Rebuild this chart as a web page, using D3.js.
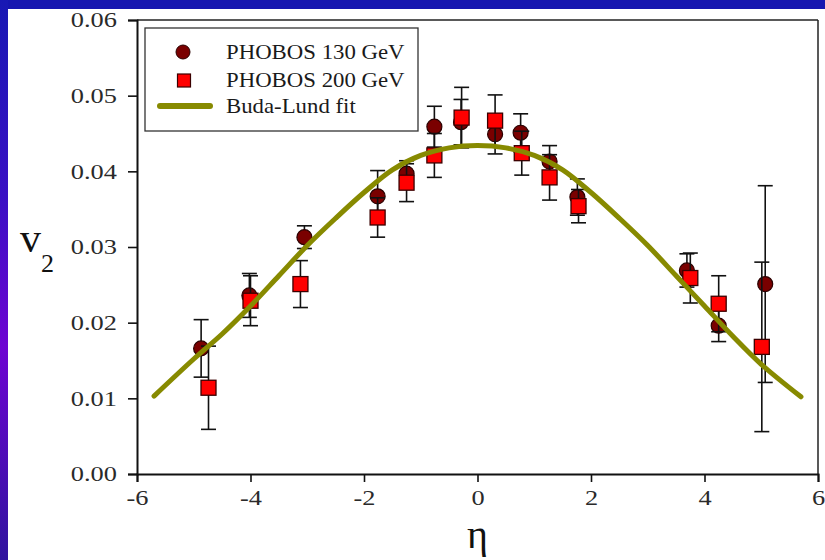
<!DOCTYPE html>
<html><head><meta charset="utf-8">
<script src="https://cdn.jsdelivr.net/npm/d3@7"></script>
<style>
html,body{margin:0;padding:0;background:#1616b0;}
svg{display:block;}
text{font-family:"Liberation Serif","Times New Roman",serif;}
</style></head>
<body>
<svg id="chart" width="825" height="560"></svg>
<script>
// ---- data ----
const eta130 = [-4.87,-4.02,-3.05,-1.76,-1.25,-0.76,-0.29,0.31,0.76,1.27,1.76,3.69,4.25,5.07];
const v130   = [0.0166,0.0236,0.0313,0.0367,0.0397,0.0459,0.0465,0.0449,0.0451,0.0413,0.0366,0.0269,0.0196,0.0251];
const err130 = [0.0038,0.0029,0.0015,0.0034,0.0017,0.0027,0.0030,0.0026,0.0025,0.0021,0.0024,0.0022,0.0021,0.0130];

const eta200 = [-4.74,-4.00,-3.12,-1.76,-1.25,-0.76,-0.28,0.31,0.78,1.27,1.78,3.75,4.25,5.01];
const v200   = [0.0114,0.0229,0.0251,0.0339,0.0385,0.0421,0.0471,0.0467,0.0424,0.0392,0.0354,0.0259,0.0225,0.0168];
const err200 = [0.0055,0.0033,0.0031,0.0026,0.0025,0.0029,0.0040,0.0034,0.0029,0.0030,0.0022,0.0033,0.0037,0.0112];

const etaFit = [-5.7,-5.0,-4.5,-4.0,-3.5,-3.0,-2.5,-2.0,-1.5,-1.0,-0.5,0,0.5,1.0,1.5,2.0,2.5,3.0,3.5,4.0,4.5,5.0,5.7];
const vFit   = [0.0103,0.0152,0.0185,0.0222,0.0262,0.0302,0.0338,0.0372,0.0402,0.0421,0.0431,0.0434,0.0431,0.0421,0.0402,0.0372,0.0338,0.0302,0.0262,0.0222,0.0182,0.0145,0.0102];

const xTicks = [-6,-4,-2,0,2,4,6];
const yTicks = [0,0.01,0.02,0.03,0.04,0.05,0.06];
const legendLabels = ["PHOBOS 130 GeV","PHOBOS 200 GeV","Buda-Lund fit"];

// ---- drawing ----
const svg = d3.select("#chart");
const W = 825, H = 560;
const SX_TICK = 1.32;  // horizontal stretch of tick labels
const SX_LEG = 1.14;   // horizontal stretch of legend labels

const defs = svg.append("defs");
const grad = defs.append("linearGradient").attr("id","leftGrad").attr("x1",0).attr("y1",0).attr("x2",0).attr("y2",1);
grad.append("stop").attr("offset","0%").attr("stop-color","#1818b4");
grad.append("stop").attr("offset","35%").attr("stop-color","#3a10c4");
grad.append("stop").attr("offset","62%").attr("stop-color","#6e04d2");
grad.append("stop").attr("offset","100%").attr("stop-color","#30149e");

svg.append("rect").attr("width",W).attr("height",H).attr("fill","#1616b0");
svg.append("rect").attr("x",0).attr("y",0).attr("width",8).attr("height",H).attr("fill","url(#leftGrad)");
svg.append("rect").attr("x",8).attr("y",9).attr("width",W-8).attr("height",H-9).attr("fill","#ffffff");

const x = d3.scaleLinear().domain([-6,6]).range([137,818]);
const y = d3.scaleLinear().domain([0,0.06]).range([474,20]);

// frame top & right
svg.append("line").attr("x1",x(-6)).attr("x2",x(6)).attr("y1",y(0.06)).attr("y2",y(0.06)).attr("stroke","#222").attr("stroke-width",1.5);
svg.append("line").attr("x1",x(6)).attr("x2",x(6)).attr("y1",y(0.06)).attr("y2",y(0)).attr("stroke","#222").attr("stroke-width",1.5);

const xAxis = d3.axisBottom(x).tickValues(xTicks).tickFormat(d => String(d)).tickSize(8);
const yAxis = d3.axisLeft(y).tickValues(yTicks).tickFormat(d3.format(".2f")).tickSize(9);

const gx = svg.append("g").attr("transform",`translate(0,${y(0)})`).call(xAxis);
const gy = svg.append("g").attr("transform",`translate(${x(-6)},0)`).call(yAxis);
[gx,gy].forEach(g => {
  g.attr("font-family",null).attr("font-size",null);
  g.select(".domain").attr("stroke","#111").attr("stroke-width",2);
  g.selectAll(".tick line").attr("stroke","#111").attr("stroke-width",1.6);
  g.selectAll(".tick text").attr("fill","#2a2a2a")
    .style("font-family","'Liberation Serif','Times New Roman',serif").style("font-size","20px");
});
gx.selectAll(".tick text").attr("x",0).attr("y",0).attr("dy",null)
  .attr("transform",`translate(0,31) scale(${SX_TICK},1)`);
gy.selectAll(".tick text").attr("x",0).attr("dy","0.34em")
  .attr("transform",`translate(-20,0) scale(${SX_TICK},1)`);

// axis titles
svg.append("text").attr("x",x(0)).attr("y",548).attr("text-anchor","middle")
  .style("font-size","40px").attr("fill","#111").text("η");
const vt = svg.append("text").attr("x",20).attr("y",252).attr("fill","#111");
vt.append("tspan").style("font-size","42px").text("v");
vt.append("tspan").attr("dy",20).style("font-size","26px").text("2");

const capW = 7.5;
function errorBars(etas, vals, errs, cls) {
  const g = svg.append("g").attr("class",cls);
  etas.forEach((e,i) => {
    const cx = x(e), top = y(vals[i]+errs[i]), bot = y(vals[i]-errs[i]);
    g.append("line").attr("x1",cx).attr("x2",cx).attr("y1",top).attr("y2",bot).attr("stroke","#111").attr("stroke-width",1.6);
    g.append("line").attr("x1",cx-capW).attr("x2",cx+capW).attr("y1",top).attr("y2",top).attr("stroke","#111").attr("stroke-width",1.6);
    g.append("line").attr("x1",cx-capW).attr("x2",cx+capW).attr("y1",bot).attr("y2",bot).attr("stroke","#111").attr("stroke-width",1.6);
  });
}

// 130 GeV
errorBars(eta130, v130, err130, "e130");
svg.append("g").selectAll("circle").data(eta130).join("circle")
  .attr("cx", d => x(d)).attr("cy", (d,i) => y(v130[i])).attr("r",7.5)
  .attr("fill","#7a0000").attr("stroke","#2a0000").attr("stroke-width",1.2);

// 200 GeV
errorBars(eta200, v200, err200, "e200");
const sq = 15;
svg.append("g").selectAll("rect").data(eta200).join("rect")
  .attr("x", d => x(d)-sq/2).attr("y", (d,i) => y(v200[i])-sq/2).attr("width",sq).attr("height",sq)
  .attr("fill","#ff0000").attr("stroke","#3a0000").attr("stroke-width",1.3);

// fit
const fitData = etaFit.map((e,i) => [e, vFit[i]]);
svg.append("path").datum(fitData)
  .attr("d", d3.line().x(d => x(d[0])).y(d => y(d[1])).curve(d3.curveCatmullRom))
  .attr("fill","none").attr("stroke","#878a00").attr("stroke-width",5).attr("stroke-linecap","round");

// legend
const lg = svg.append("g");
lg.append("rect").attr("x",145).attr("y",28).attr("width",273).attr("height",103)
  .attr("fill","#fff").attr("stroke","#333").attr("stroke-width",1.3);
lg.append("circle").attr("cx",183).attr("cy",52).attr("r",7).attr("fill","#7a0000").attr("stroke","#2a0000");
lg.append("rect").attr("x",177.5).attr("y",74).attr("width",13).attr("height",13).attr("fill","#ff0000").attr("stroke","#3a0000").attr("stroke-width",1.2);
lg.append("line").attr("x1",160).attr("x2",210).attr("y1",106).attr("y2",106).attr("stroke","#878a00").attr("stroke-width",6).attr("stroke-linecap","round");
const ly = [58.5, 86.5, 113];
legendLabels.forEach((t,i) => {
  lg.append("text").attr("x",0).attr("y",0).attr("transform",`translate(226,${ly[i]}) scale(${SX_LEG},1)`)
    .style("font-size","20px").attr("fill","#1a1a1a").text(t);
});
</script>
</body></html>
